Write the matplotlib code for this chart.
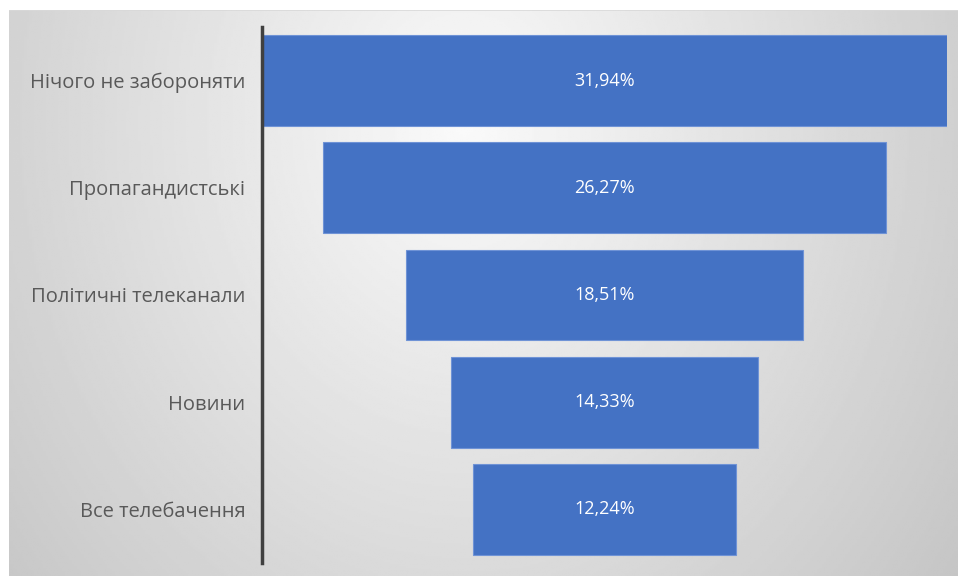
import numpy as np
import matplotlib.pyplot as plt

categories = ['Нічого не забороняти', 'Пропагандистські', 'Політичні телеканали',
              'Новини', 'Все телебачення']
values = [31.94, 26.27, 18.51, 14.33, 12.24]
value_labels = ['31,94%', '26,27%', '18,51%', '14,33%', '12,24%']

W, H = 958, 577
fig = plt.figure(figsize=(W / 100, H / 100), dpi=100)
fig.patch.set_facecolor('white')

# radial grey background of the chart area
bg = fig.add_axes([9 / W, 1 / H, 949 / W, 566 / H])
gx, gy = np.meshgrid(np.linspace(0, 1, 400), np.linspace(0, 1, 300))
d = np.sqrt(((gx - 0.48) / 0.52) ** 2 + ((gy - 0.2) / 1.05) ** 2)
shade = np.clip(250 - 42 * d, 196, 250) / 255
bg.imshow(shade, cmap='gray', vmin=0, vmax=1, aspect='auto', extent=(0, 1, 1, 0))
bg.set_xlim(0, 1)
bg.set_ylim(1, 0)
bg.axis('off')
bg.axhline(0, color='#d9d9d9', lw=1.2)

ax = fig.add_axes([262 / W, (H - 563) / H, 685 / W, 536 / H])
ax.patch.set_alpha(0)
half = values[0] / 2
ax.set_xlim(-half, half)
y = np.arange(len(categories))
ax.barh(y, values, left=[-v / 2 for v in values], height=0.846,
        color='#4472C4', edgecolor='#6f93d6', linewidth=0.8)
ax.set_ylim(len(categories) - 0.5, -0.5)

for yi, lab in zip(y, value_labels):
    ax.text(0, yi, lab, ha='center', va='center', color='white',
            fontsize=13, family='Open Sans')

ax.set_yticks(y)
ax.set_yticklabels(categories, fontsize=14.5, color='#595959', family='Open Sans')
ax.tick_params(axis='y', length=0, pad=12)
ax.set_xticks([])
for s in ['top', 'right', 'bottom']:
    ax.spines[s].set_visible(False)
ax.spines['left'].set_color('#404040')
ax.spines['left'].set_linewidth(2.5)

fig.savefig('out.png', dpi=100)
